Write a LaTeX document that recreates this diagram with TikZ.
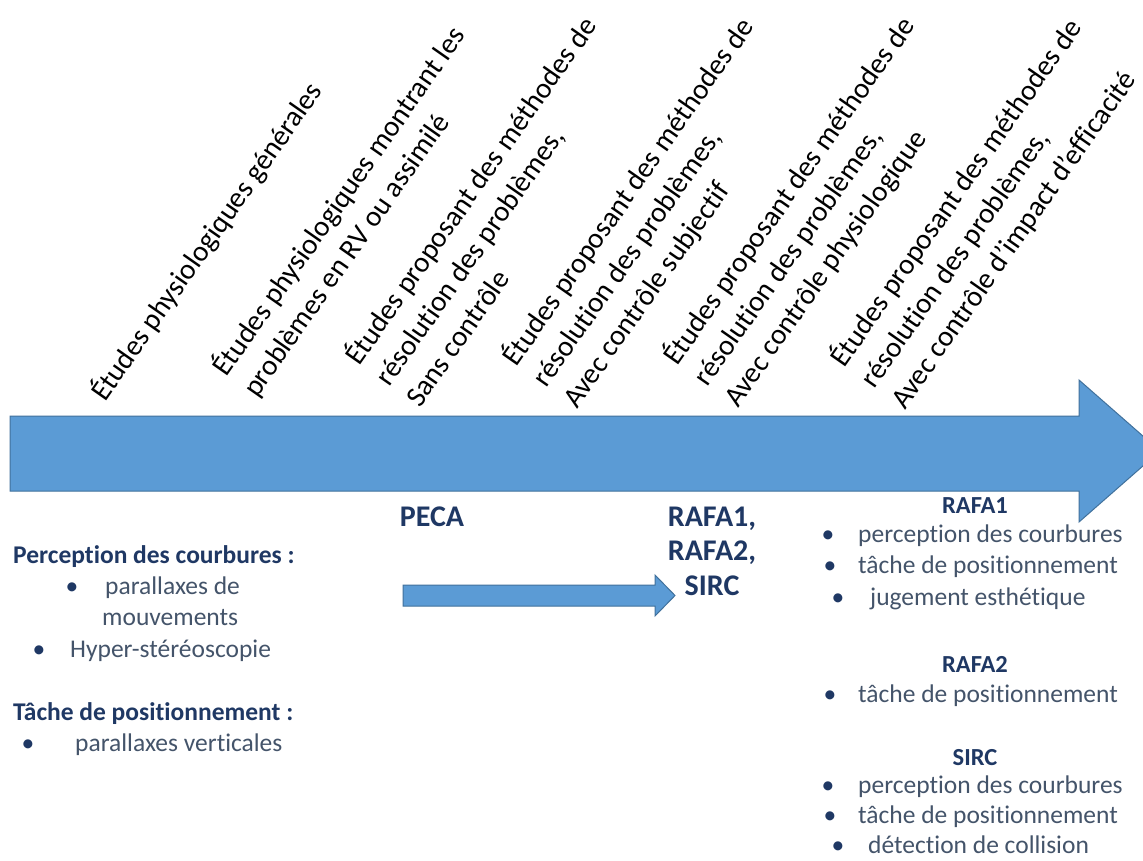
\documentclass[tikz,border=0pt]{standalone}
\usepackage{fontspec}
\setmainfont{Carlito}[Ligatures=NoCommon]
\definecolor{arrowfill}{HTML}{5B9BD5}
\definecolor{arrowline}{HTML}{41719C}
\definecolor{navy}{HTML}{1F3864}
\definecolor{slate}{HTML}{44546A}
\newcommand{\mybullet}[5]{%
  \node[bul] (#1b) at (#2,#4) {•};
  \node[body] (#1) at (#3,#4) {#5};}
\begin{document}
\begin{tikzpicture}[x=1pt,y=-1pt,
  blockarrow/.style={fill=arrowfill,draw=arrowline,line width=1pt,line join=miter},
  rot/.style={rotate=55,anchor=base west,align=left,inner sep=0pt,font=\fontsize{29}{37}\selectfont,text=black},
  head/.style={anchor=base,align=center,inner sep=0pt,font=\bfseries\fontsize{30}{34.5}\selectfont,text=navy},
  subhead/.style={anchor=base,inner sep=0pt,font=\bfseries\fontsize{24.5}{30}\selectfont,text=navy},
  lefthead/.style={anchor=base west,inner sep=0pt,font=\bfseries\fontsize{25.5}{31.5}\selectfont,text=navy},
  body/.style={anchor=base west,inner sep=0pt,font=\fontsize{25.5}{31.5}\selectfont,text=slate},
  bul/.style={anchor=base,inner sep=0pt,font=\fontsize{25.5}{31.5}\selectfont,text=navy}]
\fill[white] (0,0) rectangle (1143,861);
\clip (0,0) rectangle (1143,861);
% main arrow
\draw[blockarrow] (10,416) -- (1079,416) -- (1079,380) -- (1160,451) -- (1079,522) -- (1079,491) -- (10,491) -- cycle;
% small arrow
\draw[blockarrow] (403,585) -- (655,585) -- (655,575) -- (675,595.5) -- (655,616) -- (655,606) -- (403,606) -- cycle;
% rotated labels (anchored at the start of their last line)
\node[rot] (l1) at (105,403) {Études physiologiques générales};
\node[rot] (l2) at (257,399) {Études physiologiques montrant les\\problèmes en RV ou assimilé};
\node[rot] (l3) at (420,409) {Études proposant des méthodes de\\résolution des problèmes,\\Sans contrôle};
\node[rot] (l4) at (577,410) {Études proposant des méthodes de\\résolution des problèmes,\\Avec contrôle subjectif};
\node[rot] (l5) at (738,409) {Études proposant des méthodes de\\résolution des problèmes,\\Avec contrôle physiologique};
\node[rot] (l6) at (905,411) {Études proposant des méthodes de\\résolution des problèmes,\\Avec contrôle d’impact d’efficacité};
% centre headings
\node[head] (peca) at (432,526) {PECA};
\node[head] (grp) at (712,595) {RAFA1,\\RAFA2,\\SIRC};
% left column
\node[lefthead] (pc) at (13,563) {Perception des courbures :};
\mybullet{pa}{72}{105}{594}{parallaxes de}
\node[body] (mv) at (102,625) {mouvements};
\mybullet{hs}{39}{70}{657}{Hyper-stéréoscopie}
\node[lefthead] (tp) at (13,720) {Tâche de positionnement :};
\mybullet{pv}{28}{75}{751}{parallaxes verticales}
% right column
\node[subhead] (ra) at (975,513) {RAFA1};
\mybullet{ra1}{828}{858}{542}{perception des courbures}
\mybullet{ra2}{830}{858}{573}{tâche de positionnement}
\mybullet{ra3}{838}{870}{605}{jugement esthétique}
\node[subhead] (rb) at (975,672) {RAFA2};
\mybullet{rb1}{830}{858}{702}{tâche de positionnement}
\node[subhead] (rc) at (975,765) {SIRC};
\mybullet{rc1}{828}{858}{793}{perception des courbures}
\mybullet{rc2}{830}{858}{823}{tâche de positionnement}
\mybullet{rc3}{838}{868}{853}{détection de collision}
\end{tikzpicture}
\end{document}
